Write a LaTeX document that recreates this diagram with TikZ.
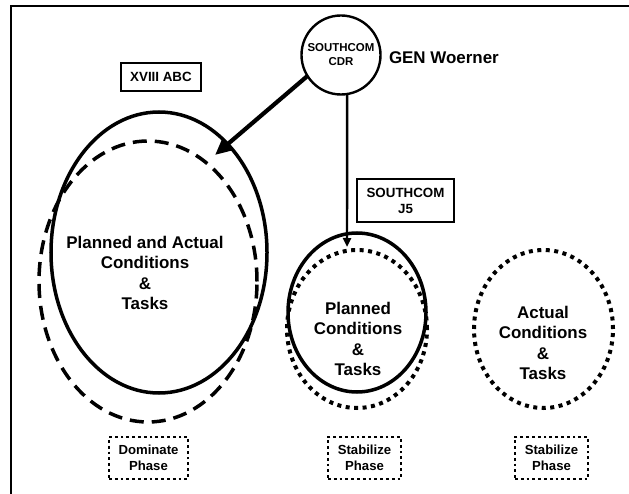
\documentclass[tikz,border=0pt]{standalone}
\usepackage{fontspec}
\setmainfont{Liberation Sans}
\usetikzlibrary{shapes.geometric,arrows.meta}
\begin{document}
\begin{tikzpicture}[x=1bp,y=-1bp,
  every node/.style={inner sep=0pt, outer sep=0pt},
  solidell/.style={ellipse, draw, line width=3.5bp},
  dashedell/.style={ellipse, draw, line width=3.5bp, dash pattern=on 14bp off 8bp},
  dottedell/.style={ellipse, draw, line width=4bp, dash pattern=on 4bp off 4.5bp},
  labelbox/.style={draw, line width=2.8bp, align=center, font=\fontsize{13.4}{16}\selectfont\bfseries},
  phasebox/.style={draw, line width=2.8bp, dash pattern=on 2.8bp off 3bp, minimum height=42bp, align=center, font=\fontsize{13.2}{16}\selectfont\bfseries},
  bigtext/.style={align=center, font=\fontsize{17}{20.5}\selectfont\bfseries},
  thickarrow/.style={line width=4.2bp, -{Triangle[length=17bp,width=15bp]}},
  thinarrow/.style={line width=2.4bp, -{Triangle[length=9bp,width=8bp]}},
]
\useasboundingbox (0,0) rectangle (629,494);
% frame (only top and left edges visible)
\draw[line width=2.8bp] (629,6) -- (11,6) -- (11,494);

% commander
\node[circle, draw, line width=2.4bp, minimum size=79bp, align=center,
      font=\fontsize{11.5}{14}\selectfont\bfseries] (cdr) at (341,55) {SOUTHCOM\\CDR};
\node[anchor=west, font=\fontsize{17}{20}\selectfont\bfseries] (gen) at (389,58) {GEN Woerner};

% label boxes
\node[labelbox, minimum width=80bp, minimum height=28bp] (abc) at (161,77) {XVIII ABC};
\node[labelbox, minimum width=97bp, minimum height=43bp] (j5) at (405.5,200.5) {SOUTHCOM\\J5};

% left group
\node[solidell, minimum width=216bp, minimum height=281bp] (leftsolid) at (159,252.5) {};
\node[dashedell, minimum width=218bp, minimum height=281bp] (leftdash) at (148,281.5) {};
\node[bigtext] (lefttext) at (145,273) {Planned and Actual\\Conditions\\\&\\Tasks};

% middle group
\node[solidell, minimum width=138bp, minimum height=159bp] (midsolid) at (357,312.5) {};
\node[dottedell, minimum width=140bp, minimum height=158bp] (middot) at (357,329) {};
\node[bigtext] (midtext) at (358,339) {Planned\\Conditions\\\&\\Tasks};

% right group
\node[dottedell, minimum width=139bp, minimum height=158bp] (rightdot) at (543.5,329) {};
\node[bigtext] (righttext) at (543,343) {Actual\\Conditions\\\&\\Tasks};

% phase boxes
\node[phasebox, minimum width=79bp] (ph1) at (148.5,458) {Dominate\\Phase};
\node[phasebox, minimum width=73bp] (ph2) at (364.5,458) {Stabilize\\Phase};
\node[phasebox, minimum width=73bp] (ph3) at (551.5,458) {Stabilize\\Phase};

% arrows
\coordinate (tipA) at (215,155);
\coordinate (tipB) at (347,247);
\draw[thickarrow] (cdr.212) -- (tipA);
\draw[thinarrow] (cdr.-81) -- (tipB);
\end{tikzpicture}
\end{document}
